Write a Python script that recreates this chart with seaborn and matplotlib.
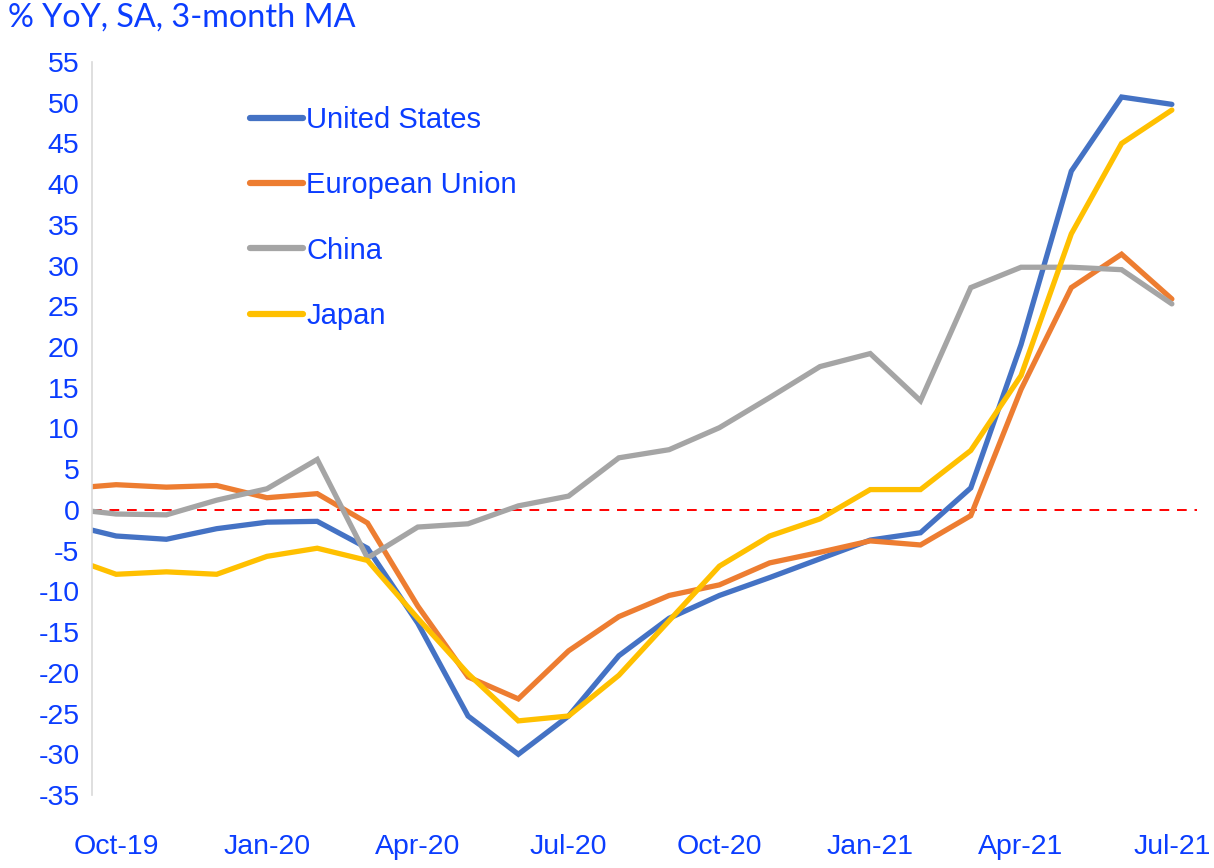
import matplotlib
matplotlib.use("Agg")
import matplotlib.pyplot as plt
import seaborn as sns
import numpy as np
import pandas as pd

sns.set_style("white")
plt.rcParams['font.family'] = ['Liberation Sans', 'DejaVu Sans']
plt.rcParams['axes.unicode_minus'] = False

# months, Sep-19 .. Jul-21 (Sep-19 sits just left of the visible axis)
months = pd.date_range("2019-09-01", "2021-07-01", freq="MS")
united_states = [-1.7, -3.2, -3.6, -2.3, -1.5, -1.4, -4.7, -13.9, -25.3, -30.0, -25.3, -17.9,
                 -13.3, -10.5, -8.3, -6.0, -3.7, -2.8, 2.7, 20.3, 41.6, 50.7, 49.8]
european_union = [2.6, 3.1, 2.8, 3.0, 1.5, 2.0, -1.6, -11.8, -20.5, -23.2, -17.3, -13.1,
                  -10.5, -9.2, -6.5, -5.2, -3.8, -4.3, -0.7, 14.8, 27.3, 31.4, 25.9]
china = [0.2, -0.5, -0.6, 1.2, 2.6, 6.2, -5.9, -2.1, -1.7, 0.5, 1.7, 6.4,
         7.4, 10.1, 13.8, 17.6, 19.2, 13.4, 27.3, 29.8, 29.8, 29.5, 25.3]
japan = [-5.7, -7.9, -7.6, -7.9, -5.7, -4.7, -6.2, -13.3, -20.1, -25.9, -25.3, -20.3,
         -13.6, -6.9, -3.2, -1.1, 2.5, 2.5, 7.3, 16.5, 33.9, 45.0, 49.1]
series_names = ["United States", "European Union", "China", "Japan"]
colors = ["#4472C4", "#ED7D31", "#A5A5A5", "#FFC000"]
tick_labels = ["Oct-19", "Jan-20", "Apr-20", "Jul-20", "Oct-20", "Jan-21", "Apr-21", "Jul-21"]

text_color = "#0B3DFF"

pos = np.arange(len(months)) - 1  # Oct-19 -> 0
df = pd.DataFrame({
    "pos": np.tile(pos, 4),
    "value": united_states + european_union + china + japan,
    "series": np.repeat(series_names, len(months)),
})

fig = plt.figure(figsize=(12.14, 8.68), dpi=100)
ax = fig.add_axes([92/1214, 1 - 795/868, (1197 - 92)/1214, (795 - 62)/868])

sns.lineplot(data=df, x="pos", y="value", hue="series", hue_order=series_names,
             palette=colors, linewidth=3.8, ax=ax, legend=True)
for ln in ax.get_lines():
    ln.set_solid_capstyle("round")
    ln.set_solid_joinstyle("miter")

ax.axhline(0, color="#FF0000", lw=1.4, ls=(0, (5, 4)), zorder=1)

ax.set_xlim(-0.48, 21.5)
ax.set_ylim(-35, 55)
ax.set_yticks(np.arange(-35, 56, 5))
ax.set_xticks(np.arange(0, 22, 3))
ax.set_xticklabels(tick_labels)
ax.tick_params(axis="both", colors=text_color, labelsize=20.5, length=0)
ax.tick_params(axis="x", pad=28)
ax.tick_params(axis="y", pad=9)
ax.set_xlabel("")
ax.set_ylabel("")

for s in ["top", "right", "bottom"]:
    ax.spines[s].set_visible(False)
ax.spines["left"].set_color("#D9D9D9")
ax.spines["left"].set_linewidth(1.2)

handles, labels = ax.get_legend_handles_labels()
leg = ax.legend(handles, labels, loc="upper left", bbox_to_anchor=(0.1325, 0.956),
                frameon=False, fontsize=21, handlelength=1.8, handletextpad=0.12,
                labelspacing=1.28, borderaxespad=0)
for t in leg.get_texts():
    t.set_color(text_color)
for h in leg.get_lines():
    h.set_linewidth(4.5)
    h.set_solid_capstyle("round")

fig.text(8/1214, 1 - 3/868, "% YoY, SA, 3-month MA", color=text_color, fontsize=23.3,
         family=["Lato", "DejaVu Sans"], ha="left", va="top")

fig.savefig("out.png", dpi=100)
